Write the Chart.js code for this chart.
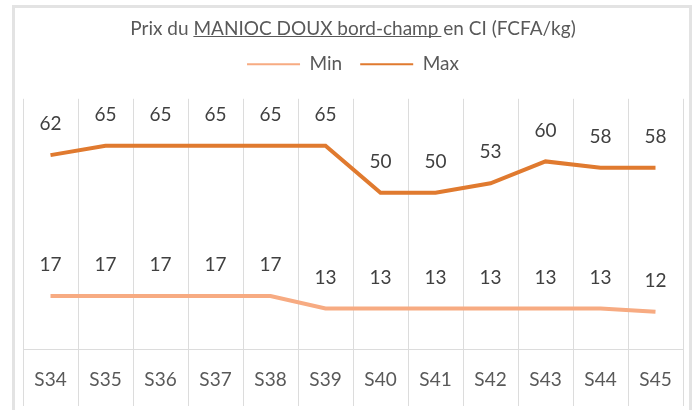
<!DOCTYPE html>
<html>
<head>
<meta charset="utf-8">
<script src="https://cdn.jsdelivr.net/npm/chart.js@4.4.1/dist/chart.umd.min.js"></script>
<style>
  html, body { margin: 0; padding: 0; background: #fff; }
  #wrap { width: 699px; height: 410px; }
</style>
</head>
<body>
<div id="wrap"><canvas id="myChart" width="699" height="410"></canvas></div>
<script>
  // semaines
  const weeks = ['S34', 'S35', 'S36', 'S37', 'S38', 'S39', 'S40', 'S41', 'S42', 'S43', 'S44', 'S45'];
  const minPrices = [17, 17, 17, 17, 17, 13, 13, 13, 13, 13, 13, 12];
  const maxPrices = [62, 65, 65, 65, 65, 65, 50, 50, 53, 60, 58, 58];

  const titleText = 'Prix du MANIOC DOUX bord-champ en CI (FCFA/kg)';
  const underlined = 'MANIOC DOUX bord-champ';
  const FONT = 'Lato, "Open Sans", sans-serif';
  const GRID = '#dcdcdc';

  // cadre gris + fond blanc
  const frame = {
    id: 'frame',
    beforeDraw(chart) {
      const c = chart.ctx;
      c.save();
      c.fillStyle = '#fff';
      c.fillRect(0, 0, chart.width, chart.height);
      c.strokeStyle = '#e3e3e3';
      c.lineWidth = 3;
      c.strokeRect(13.5, 6.5, 677, 430);
      c.restore();
    },
  };

  // soulignement d'une partie du titre
  const underline = {
    id: 'underline',
    afterDraw(chart) {
      const t = chart.titleBlock;
      const c = chart.ctx;
      c.save();
      c.font = '19px ' + FONT;
      const full = c.measureText(titleText).width;
      const pre = c.measureText('Prix du ').width;
      const seg = c.measureText(underlined).width;
      const cx = (t.left + t.right) / 2;
      const x0 = cx - full / 2 + pre;
      const y = Math.round(t.top + t.options.padding.top + 11.4 + 8) + 0.5;
      c.strokeStyle = '#595959';
      c.lineWidth = 1;
      c.beginPath();
      c.moveTo(x0, y);
      c.lineTo(x0 + seg + 3, y);
      c.stroke();
      c.restore();
    },
  };

  // étiquettes de valeurs au-dessus des points
  const valueLabels = {
    id: 'valueLabels',
    afterDatasetsDraw(chart) {
      const c = chart.ctx;
      c.save();
      c.font = '19px ' + FONT;
      c.fillStyle = '#404040';
      c.textAlign = 'center';
      c.textBaseline = 'middle';
      chart.data.datasets.forEach((ds, i) => {
        chart.getDatasetMeta(i).data.forEach((pt, j) => {
          c.fillText(String(ds.data[j]), pt.x, pt.y - 31);
        });
      });
      c.restore();
    },
  };

  // traits de séparation sous l'axe des catégories
  const catTicks = {
    id: 'catTicks',
    afterDraw(chart) {
      const sc = chart.scales.x;
      const n = chart.data.labels.length;
      const step = (sc.right - sc.left) / n;
      const c = chart.ctx;
      c.save();
      c.strokeStyle = GRID;
      c.lineWidth = 1;
      c.beginPath();
      for (let k = 0; k <= n; k++) {
        const x = Math.round(sc.left + k * step) + 0.5;
        c.moveTo(x, chart.chartArea.bottom);
        c.lineTo(x, chart.height - 4);
      }
      c.stroke();
      c.restore();
    },
  };

  // espace sous la légende
  const legendGap = {
    id: 'legendGap',
    beforeInit(chart) {
      const fit = chart.legend.fit;
      chart.legend.fit = function () {
        fit.bind(this)();
        this.height += 15;
      };
    },
  };

  const ctx = document.getElementById('myChart').getContext('2d');
  const myChart = new Chart(ctx, {
    type: 'line',
    data: {
      labels: weeks,
      datasets: [
        {
          label: 'Min',
          data: minPrices,
          borderColor: '#F7AB82',
          backgroundColor: '#F7AB82',
          borderWidth: 4,
          pointRadius: 0,
          tension: 0,
        },
        {
          label: 'Max',
          data: maxPrices,
          borderColor: '#E07A2F',
          backgroundColor: '#E07A2F',
          borderWidth: 4,
          pointRadius: 0,
          tension: 0,
        },
      ],
    },
    options: {
      responsive: false,
      animation: false,
      layout: { padding: { left: 23, right: 16, bottom: 0, top: 0 } },
      plugins: {
        title: {
          display: true,
          text: titleText,
          color: '#595959',
          font: { family: FONT, size: 19, weight: 'normal' },
          padding: { top: 17, bottom: -3 },
        },
        legend: {
          labels: {
            usePointStyle: true,
            pointStyle: 'line',
            pointStyleWidth: 53,
            padding: 18,
            color: '#595959',
            font: { family: FONT, size: 19 },
            generateLabels(chart) {
              const items = Chart.defaults.plugins.legend.labels.generateLabels(chart);
              items.forEach((it) => { it.lineWidth = 2; it.pointStyle = 'line'; });
              return items;
            },
          },
        },
        tooltip: { enabled: false },
      },
      scales: {
        x: {
          offset: true,
          grid: {
            color: GRID,
            drawTicks: false,
            offset: true,
          },
          border: { color: GRID },
          ticks: {
            padding: 19,
            color: '#595959',
            font: { family: FONT, size: 19 },
          },
        },
        y: {
          display: false,
          min: 0,
          max: 80,
        },
      },
    },
    plugins: [frame, underline, valueLabels, catTicks, legendGap],
  });
</script>
</body>
</html>
